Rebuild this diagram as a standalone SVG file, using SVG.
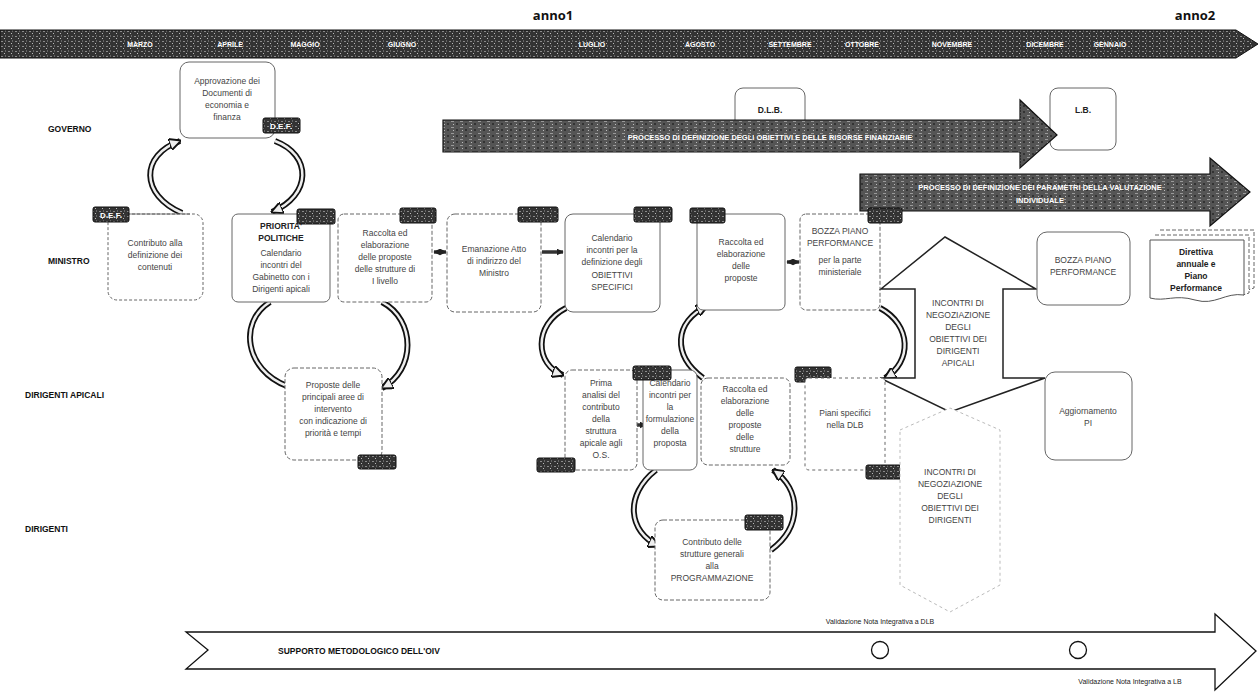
<svg xmlns="http://www.w3.org/2000/svg" width="1260" height="693" viewBox="0 0 1260 693">
<defs>
<pattern id="noise" width="7" height="5" patternUnits="userSpaceOnUse">
<rect width="7" height="5" fill="#333"/>
<rect x="1" y="1" width="2" height="1" fill="#8a8a8a"/>
<rect x="4" y="3" width="1" height="1" fill="#bbb"/>
<rect x="5" y="0" width="1" height="2" fill="#666"/>
</pattern>
<pattern id="noise2" width="9" height="6" patternUnits="userSpaceOnUse">
<rect width="9" height="6" fill="#555"/>
<rect x="1" y="1" width="3" height="1" fill="#999"/>
<rect x="6" y="3" width="2" height="2" fill="#333"/>
<rect x="3" y="4" width="1" height="1" fill="#bbb"/>
</pattern>
<marker id="ah" viewBox="0 0 10 10" refX="9" refY="5" markerWidth="12" markerHeight="12" markerUnits="userSpaceOnUse" orient="auto">
<path d="M0,0 L10,5 L0,10 z" fill="#eee" stroke="#111" stroke-width="1.6"/>
</marker>
<marker id="ah2" viewBox="0 0 10 10" refX="9" refY="5" markerWidth="7" markerHeight="7" markerUnits="userSpaceOnUse" orient="auto-start-reverse">
<path d="M0,0 L10,5 L0,10 z" fill="#222"/>
</marker>
</defs>
<style>
.lbl{font-family:"Liberation Sans",Arial,sans-serif;font-weight:bold;font-size:8.5px;fill:#111}
.t{font-family:"Liberation Sans",Arial,sans-serif;font-size:8.5px;fill:#444;text-anchor:middle}
.tb{font-family:"Liberation Sans",Arial,sans-serif;font-size:8.5px;font-weight:bold;fill:#222;text-anchor:middle}
.box{fill:#fff;stroke:#666;stroke-width:1}
.tag{fill:url(#noise);stroke:#111;stroke-width:1}
.tagt{font-family:"Liberation Sans",Arial,sans-serif;font-size:8px;font-weight:bold;fill:#fff;text-anchor:middle}
.mon{font-family:"Liberation Sans",Arial,sans-serif;font-size:7px;font-weight:bold;fill:#fff;text-anchor:middle}
.year{font-family:"Open Sans","Liberation Sans",sans-serif;font-size:13px;font-weight:bold;fill:#111;text-anchor:middle}
.big{fill:url(#noise2);stroke:#111;stroke-width:1.2}
.bigt{font-family:"Liberation Sans",Arial,sans-serif;font-size:7.5px;font-weight:bold;fill:#fff;text-anchor:middle}
.arcO{fill:none;stroke:#111;stroke-width:6}
.arcI{fill:none;stroke:#eee;stroke-width:2.5}
.link{fill:none;stroke:#333;stroke-width:3.5}
.tl{fill:none;stroke:#555;stroke-width:0.8}
.val{font-family:"Liberation Sans",Arial,sans-serif;font-size:7px;fill:#222;text-anchor:middle}
</style>

<g id="timeline">
<polygon points="0,30 1236,30 1258,44 1236,58 0,58" fill="url(#noise)" stroke="#111"/>
<text class="mon" x="140" y="47">MARZO</text>
<text class="mon" x="230" y="47">APRILE</text>
<text class="mon" x="305" y="47">MAGGIO</text>
<text class="mon" x="402" y="47">GIUGNO</text>
<text class="mon" x="592" y="47">LUGLIO</text>
<text class="mon" x="700" y="47">AGOSTO</text>
<text class="mon" x="790" y="47">SETTEMBRE</text>
<text class="mon" x="862" y="47">OTTOBRE</text>
<text class="mon" x="952" y="47">NOVEMBRE</text>
<text class="mon" x="1045" y="47">DICEMBRE</text>
<text class="mon" x="1110" y="47">GENNAIO</text>
<text class="year" x="553" y="20">anno1</text>
<text class="year" x="1195" y="20">anno2</text>
</g>

<g id="roles">
<text class="lbl" x="48" y="132">GOVERNO</text>
<text class="lbl" x="48" y="264">MINISTRO</text>
<text class="lbl" x="25" y="398">DIRIGENTI  APICALI</text>
<text class="lbl" x="25" y="532">DIRIGENTI</text>
</g>

<g id="n-dlb">
<rect class="box" x="735" y="88" width="70" height="62" rx="8"/>
<text class="tb" x="770" y="113">D.L.B.</text>
</g>
<g id="n-lb">
<rect class="box" x="1050" y="88" width="66" height="62" rx="8"/>
<text class="tb" x="1083" y="113">L.B.</text>
</g>

<g id="process1">
<polygon class="big" points="443,120 1020,120 1020,100 1057,135 1020,168 1020,152 443,152"/>
<text class="bigt" x="770" y="140">PROCESSO DI DEFINIZIONE DEGLI OBIETTIVI E DELLE RISORSE FINANZIARIE</text>
</g>
<g id="process2">
<polygon class="big" points="860,174 1210,174 1210,158 1250,192 1210,226 1210,211 860,211"/>
<text class="bigt" x="1040" y="190">PROCESSO DI DEFINIZIONE DEI PARAMETRI DELLA VALUTAZIONE</text>
<text class="bigt" x="1040" y="203">INDIVIDUALE</text>
</g>

<g id="connectors">
<path class="arcO" d="M182 213 C140 195 140 155 180 141"/>
<path class="arcI" d="M182 213 C140 195 140 155 180 141" marker-end="url(#ah)"/>
<path class="arcO" d="M275 141 C312 155 312 195 272 212"/>
<path class="arcI" d="M275 141 C312 155 312 195 272 212" marker-end="url(#ah)"/>
<path class="arcO" d="M270 302 C238 322 245 370 287 386"/>
<path class="arcI" d="M270 302 C238 322 245 370 287 386"/>
<path class="arcO" d="M382 302 C416 320 416 370 382 388"/>
<path class="arcI" d="M382 302 C416 320 416 370 382 388" marker-end="url(#ah)"/>
<path class="arcO" d="M566 308 C533 325 535 365 563 375"/>
<path class="arcI" d="M566 308 C533 325 535 365 563 375" marker-end="url(#ah)"/>
<path class="arcO" d="M703 378 C672 355 674 322 707 306"/>
<path class="arcI" d="M703 378 C672 355 674 322 707 306" marker-end="url(#ah)"/>
<path class="arcO" d="M880 308 C912 325 912 362 885 378"/>
<path class="arcI" d="M880 308 C912 325 912 362 885 378" marker-end="url(#ah)"/>
<path class="arcO" d="M656 470 C624 495 628 532 659 546"/>
<path class="arcI" d="M656 470 C624 495 628 532 659 546" marker-end="url(#ah)"/>
<path class="arcO" d="M771 550 C802 527 802 490 773 470"/>
<path class="arcI" d="M771 550 C802 527 802 490 773 470" marker-end="url(#ah)"/>
<line class="link" x1="434" y1="252" x2="446" y2="252" marker-start="url(#ah2)" marker-end="url(#ah2)"/>
<line class="link" x1="542" y1="252" x2="563" y2="252" marker-end="url(#ah2)"/>
<line class="link" x1="787" y1="262" x2="799" y2="262" marker-start="url(#ah2)" marker-end="url(#ah2)"/>
<line class="link" x1="629" y1="425" x2="646" y2="425" marker-start="url(#ah2)" marker-end="url(#ah2)"/>
</g>

<g id="n-approvazione">
<rect class="box" x="180" y="62" width="95" height="76" rx="9"/>
<text class="t" x="227" y="84">Approvazione dei</text>
<text class="t" x="227" y="96">Documenti di</text>
<text class="t" x="227" y="108">economia e</text>
<text class="t" x="227" y="120">finanza</text>
<rect class="tag" x="263" y="118" width="37" height="15" rx="2"/>
<text class="tagt" x="281" y="129">D.E.F.</text>
</g>

<g id="n-contributo">
<rect class="box" x="108" y="214" width="95" height="86" rx="9" stroke-dasharray="3,2"/>
<line class="tl" x1="129" y1="214" x2="190" y2="214"/>
<text class="t" x="155" y="246">Contributo alla</text>
<text class="t" x="155" y="258">definizione dei</text>
<text class="t" x="155" y="270">contenuti</text>
<rect class="tag" x="93" y="207" width="36" height="15" rx="2"/>
<text class="tagt" x="111" y="218">D.E.F.</text>
</g>
<g id="n-priorita">
<rect class="box" x="232" y="214" width="98" height="88" rx="6"/>
<text class="tb" x="281" y="229">PRIORITA'</text>
<text class="tb" x="281" y="241">POLITICHE</text>
<text class="t" x="281" y="256">Calendario</text>
<text class="t" x="281" y="268">incontri del</text>
<text class="t" x="281" y="280">Gabinetto con i</text>
<text class="t" x="281" y="292">Dirigenti apicali</text>
<rect class="tag" x="297" y="209" width="38" height="15" rx="2"/>
</g>
<g id="n-raccolta1">
<rect class="box" x="338" y="214" width="94" height="88" rx="6" stroke-dasharray="4,2"/>
<text class="t" x="385" y="236">Raccolta ed</text>
<text class="t" x="385" y="248">elaborazione</text>
<text class="t" x="385" y="260">delle proposte</text>
<text class="t" x="385" y="272">delle strutture di</text>
<text class="t" x="385" y="284">I livello</text>
<rect class="tag" x="400" y="208" width="36" height="15" rx="2"/>
</g>
<g id="n-emanazione">
<rect class="box" x="447" y="214" width="94" height="98" rx="8" stroke-dasharray="4,2"/>
<text class="t" x="494" y="252">Emanazione Atto</text>
<text class="t" x="494" y="264">di indirizzo del</text>
<text class="t" x="494" y="276">Ministro</text>
<rect class="tag" x="518" y="207" width="40" height="15" rx="2"/>
</g>
<g id="n-calendario-os">
<rect class="box" x="565" y="214" width="95" height="98" rx="8"/>
<text class="t" x="612" y="241">Calendario</text>
<text class="t" x="612" y="253">incontri per la</text>
<text class="t" x="612" y="265">definizione degli</text>
<text class="t" x="612" y="278">OBIETTIVI</text>
<text class="t" x="612" y="290">SPECIFICI</text>
<rect class="tag" x="634" y="207" width="38" height="15" rx="2"/>
</g>
<g id="n-raccolta2">
<rect class="box" x="697" y="214" width="88" height="96" rx="6"/>
<text class="t" x="741" y="245">Raccolta ed</text>
<text class="t" x="741" y="257">elaborazione</text>
<text class="t" x="741" y="269">delle</text>
<text class="t" x="741" y="281">proposte</text>
<rect class="tag" x="690" y="208" width="35" height="15" rx="2"/>
</g>
<g id="n-bozza1">
<rect class="box" x="800" y="214" width="80" height="96" rx="6" stroke-dasharray="4,2"/>
<text class="t" x="840" y="234">BOZZA PIANO</text>
<text class="t" x="840" y="246">PERFORMANCE</text>
<text class="t" x="840" y="263">per la parte</text>
<text class="t" x="840" y="275">ministeriale</text>
<rect class="tag" x="868" y="208" width="34" height="15" rx="2"/>
</g>
<g id="n-incontri-apicali">
<path d="M915 289 L881 289 L945 237 L1036 289 L1003 289 L1003 378 L1045 378 L950 412 L880 378 L915 378 Z" fill="#fff" stroke="#222" stroke-width="1.5"/>
<text class="t" x="958" y="306" font-size="7.5">INCONTRI DI</text>
<text class="t" x="958" y="318" font-size="7.5">NEGOZIAZIONE</text>
<text class="t" x="958" y="330" font-size="7.5">DEGLI</text>
<text class="t" x="958" y="342" font-size="7.5">OBIETTIVI DEI</text>
<text class="t" x="958" y="354" font-size="7.5">DIRIGENTI</text>
<text class="t" x="958" y="366" font-size="7.5">APICALI</text>
</g>
<g id="n-bozza2">
<rect class="box" x="1037" y="232" width="93" height="73" rx="10"/>
<text class="t" x="1083" y="263">BOZZA PIANO</text>
<text class="t" x="1083" y="275">PERFORMANCE</text>
</g>
<g id="n-direttiva">
<path d="M1160 230 L1254 230 L1254 288 L1248 290" fill="none" stroke="#666" stroke-dasharray="4,2"/>
<path d="M1155 235 L1249 235 L1249 293 L1243 295" fill="#fff" stroke="#666" stroke-dasharray="4,2"/>
<path d="M1150 240 L1244 240 L1244 295 C1225 292 1215 306 1195 300 C1175 294 1165 302 1150 298 Z" fill="#fff" stroke="#555"/>
<text class="tb" x="1196" y="255">Direttiva</text>
<text class="tb" x="1196" y="267">annuale e</text>
<text class="tb" x="1196" y="279">Piano</text>
<text class="tb" x="1196" y="291">Performance</text>
</g>

<g id="n-proposte">
<rect class="box" x="285" y="368" width="97" height="92" rx="9" stroke-dasharray="4,2"/>
<text class="t" x="333" y="388">Proposte delle</text>
<text class="t" x="333" y="400">principali aree di</text>
<text class="t" x="333" y="412">intervento</text>
<text class="t" x="333" y="424">con indicazione di</text>
<text class="t" x="333" y="436">priorità e tempi</text>
<rect class="tag" x="358" y="455" width="38" height="14" rx="2"/>
</g>
<g id="n-prima-analisi">
<rect class="box" x="565" y="370" width="72" height="100" rx="7" stroke-dasharray="4,2"/>
<text class="t" x="601" y="386">Prima</text>
<text class="t" x="601" y="398">analisi del</text>
<text class="t" x="601" y="410">contributo</text>
<text class="t" x="601" y="422">della</text>
<text class="t" x="601" y="434">struttura</text>
<text class="t" x="601" y="446">apicale agli</text>
<text class="t" x="601" y="458">O.S.</text>
<rect class="tag" x="537" y="458" width="38" height="14" rx="2"/>
</g>
<g id="n-calendario-form">
<rect class="box" x="643" y="370" width="54" height="100" rx="7"/>
<text class="t" x="670" y="386">Calendario</text>
<text class="t" x="670" y="398">incontri per</text>
<text class="t" x="670" y="410">la</text>
<text class="t" x="670" y="422">formulazione</text>
<text class="t" x="670" y="434">della</text>
<text class="t" x="670" y="446">proposta</text>
<rect class="tag" x="633" y="366" width="38" height="14" rx="2"/>
</g>
<g id="n-raccolta3">
<rect class="box" x="701" y="378" width="89" height="87" rx="7" stroke-dasharray="4,2"/>
<text class="t" x="745" y="392">Raccolta ed</text>
<text class="t" x="745" y="404">elaborazione</text>
<text class="t" x="745" y="416">delle</text>
<text class="t" x="745" y="428">proposte</text>
<text class="t" x="745" y="440">delle</text>
<text class="t" x="745" y="452">strutture</text>
<rect class="tag" x="795" y="367" width="36" height="15" rx="2"/>
</g>
<g id="n-piani-specifici">
<rect class="box" x="805" y="378" width="80" height="92" rx="4" stroke-dasharray="3,3"/>
<text class="t" x="845" y="416">Piani specifici</text>
<text class="t" x="845" y="428">nella DLB</text>
<rect class="tag" x="866" y="465" width="36" height="14" rx="2"/>
</g>
<g id="n-aggiornamento">
<rect class="box" x="1045" y="372" width="87" height="88" rx="10"/>
<text class="t" x="1088" y="414">Aggiornamento</text>
<text class="t" x="1088" y="426">PI</text>
</g>
<g id="n-incontri-dirigenti">
<path d="M900 430 L950 408 L1000 430 L1000 585 L950 612 L900 585 Z" fill="#fff" stroke="#bbb" stroke-dasharray="3,3"/>
<text class="t" x="950" y="475" font-size="7.5" fill="#777">INCONTRI DI</text>
<text class="t" x="950" y="487" font-size="7.5" fill="#777">NEGOZIAZIONE</text>
<text class="t" x="950" y="499" font-size="7.5" fill="#777">DEGLI</text>
<text class="t" x="950" y="511" font-size="7.5" fill="#777">OBIETTIVI DEI</text>
<text class="t" x="950" y="523" font-size="7.5" fill="#777">DIRIGENTI</text>
</g>

<g id="n-contributo-dirigenti">
<rect class="box" x="655" y="520" width="115" height="80" rx="8" stroke-dasharray="4,2"/>
<text class="t" x="712" y="545">Contributo delle</text>
<text class="t" x="712" y="557">strutture generali</text>
<text class="t" x="712" y="569">alla</text>
<text class="t" x="712" y="581">PROGRAMMAZIONE</text>
<rect class="tag" x="745" y="515" width="38" height="15" rx="2"/>
</g>

<g id="oiv">
<path d="M186 632 L1215 632 L1215 614 L1256 651 L1215 690 L1215 669 L186 669 L208 650 Z" fill="#fff" stroke="#111" stroke-width="1.3"/>
<text class="lbl" x="278" y="654" font-size="8">SUPPORTO METODOLOGICO DELL'OIV</text>
<circle cx="880" cy="650" r="8.5" fill="#fff" stroke="#111" stroke-width="1.3"/>
<circle cx="1078" cy="650" r="8.5" fill="#fff" stroke="#111" stroke-width="1.3"/>
<text class="val" x="880" y="624">Validazione Nota Integrativa a DLB</text>
<text class="val" x="1130" y="684">Validazione Nota Integrativa a LB</text>
</g>
</svg>
